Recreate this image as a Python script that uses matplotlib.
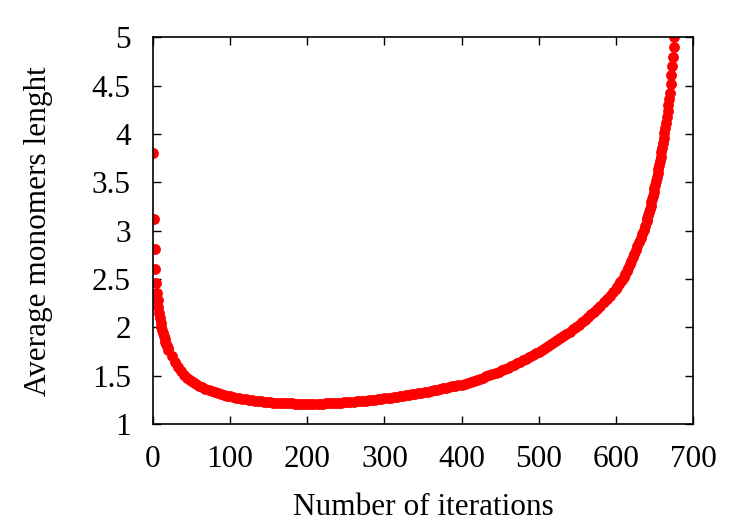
import matplotlib
matplotlib.use("Agg")
import matplotlib.pyplot as plt

# readings (iteration, average length)
iters_start = list(range(0, 21))
vals_start = [3.80, 3.12, 2.81, 2.60, 2.46, 2.36, 2.28, 2.21, 2.15, 2.10, 2.05,
              2.01, 1.97, 1.94, 1.91, 1.88, 1.85, 1.83, 1.81, 1.79, 1.77]

iters_mid = list(range(24, 600, 4))
vals_mid = [1.700, 1.640, 1.590, 1.550, 1.512, 1.482, 1.458, 1.438, 1.418, 1.399,
            1.382, 1.366, 1.352, 1.340, 1.330, 1.320, 1.311, 1.302, 1.294, 1.287,
            1.280, 1.274, 1.268, 1.262, 1.257, 1.252, 1.248, 1.244, 1.240, 1.236,
            1.233, 1.230, 1.227, 1.224, 1.222, 1.220, 1.218, 1.216, 1.215, 1.214,
            1.213, 1.212, 1.211, 1.211, 1.211, 1.211, 1.211, 1.212, 1.212, 1.213,
            1.214, 1.215, 1.217, 1.219, 1.221, 1.223, 1.225, 1.227, 1.229, 1.232,
            1.235, 1.238, 1.241, 1.244, 1.247, 1.250, 1.254, 1.258, 1.262, 1.266,
            1.270, 1.274, 1.278, 1.283, 1.288, 1.293, 1.298, 1.303, 1.308, 1.313,
            1.319, 1.325, 1.331, 1.337, 1.343, 1.349, 1.356, 1.363, 1.370, 1.377,
            1.384, 1.391, 1.398, 1.404, 1.410, 1.419, 1.429, 1.439, 1.449, 1.460,
            1.471, 1.482, 1.494, 1.506, 1.518, 1.531, 1.544, 1.557, 1.571, 1.585,
            1.600, 1.615, 1.630, 1.646, 1.662, 1.679, 1.696, 1.714, 1.732, 1.750,
            1.769, 1.788, 1.808, 1.828, 1.848, 1.869, 1.890, 1.912, 1.934, 1.957,
            1.980, 2.004, 2.029, 2.054, 2.080, 2.107, 2.135, 2.165, 2.195, 2.227,
            2.260, 2.294, 2.329, 2.364]

iters_end = list(range(600, 640, 2)) + list(range(640, 677))
vals_end = [2.400, 2.422, 2.445, 2.469, 2.494, 2.520, 2.550, 2.582, 2.616, 2.652,
            2.690, 2.726, 2.763, 2.801, 2.840, 2.880, 2.920, 2.962, 3.007, 3.053,
            3.100, 3.130, 3.160, 3.192, 3.225, 3.258, 3.292, 3.327, 3.363, 3.400,
            3.438, 3.476, 3.515, 3.555, 3.596, 3.638, 3.680, 3.723, 3.767, 3.812,
            3.858, 3.905, 3.955, 4.007, 4.061, 4.117, 4.175, 4.235, 4.297, 4.361,
            4.427, 4.515, 4.605, 4.700, 4.800, 4.900, 5.000]

x = iters_start + iters_mid + iters_end
y = vals_start + vals_mid + vals_end

plt.rcParams['font.family'] = ['Liberation Serif', 'DejaVu Serif']

fig = plt.figure(figsize=(7.5, 5.25), dpi=100)
ax = fig.add_axes([0.204, 0.192, 0.72, 0.737])

ax.plot(x, y, linestyle='none', marker='o', markersize=7.8, color='#ff0000',
        markeredgewidth=0)

ax.set_xlim(0, 700)
ax.set_ylim(1, 5)
ax.set_xticks(range(0, 701, 100))
ax.set_yticks([1, 1.5, 2, 2.5, 3, 3.5, 4, 4.5, 5])
ax.set_yticklabels(['1', '1.5', '2', '2.5', '3', '3.5', '4', '4.5', '5'])
ax.tick_params(direction='in', length=6, width=1, top=True, right=True,
               labelsize=22.5)
ax.tick_params(axis='x', pad=15)
ax.tick_params(axis='y', pad=16)
for s in ax.spines.values():
    s.set_linewidth(1.2)

ax.set_xlabel('Number of iterations', fontsize=22.5, labelpad=14)
ax.set_ylabel('Average monomers lenght', fontsize=22.5, labelpad=28)

fig.savefig('out.png', dpi=100)
